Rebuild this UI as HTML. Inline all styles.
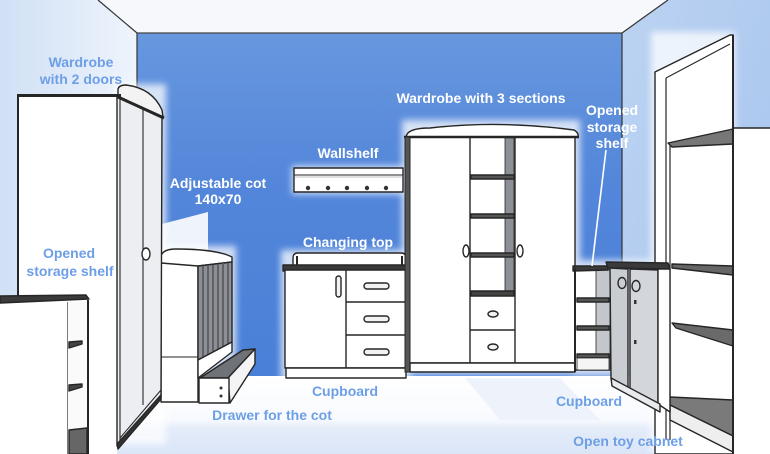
<!DOCTYPE html>
<html><head><meta charset="utf-8"><style>
html,body{margin:0;padding:0;width:770px;height:454px;overflow:hidden;background:#fff}
svg{display:block}
text{font-family:"Liberation Sans",Arial,sans-serif;font-weight:bold;font-size:14px;text-anchor:middle}
.w{fill:#fff}
.b{fill:#6d9fe7}
</style></head><body>
<svg width="770" height="454" viewBox="0 0 770 454" xmlns="http://www.w3.org/2000/svg">
<defs>
<linearGradient id="lw" x1="0" y1="0" x2="1" y2="0"><stop offset="0" stop-color="#d0e0f5"/><stop offset="1" stop-color="#eef4fc"/></linearGradient>
<linearGradient id="rw" x1="0" y1="0" x2="1" y2="1"><stop offset="0" stop-color="#bcd3f2"/><stop offset="1" stop-color="#a5c3ed"/></linearGradient>
<linearGradient id="bw" x1="0" y1="0" x2="0" y2="1"><stop offset="0" stop-color="#6797de"/><stop offset="0.45" stop-color="#5386da"/><stop offset="1" stop-color="#4a80d7"/></linearGradient>
<linearGradient id="fl" x1="0" y1="0" x2="0" y2="1"><stop offset="0" stop-color="#ffffff"/><stop offset="0.55" stop-color="#f8fafe"/><stop offset="0.68" stop-color="#e4ecf9"/><stop offset="1" stop-color="#dae5f7"/></linearGradient>
<filter id="gl" x="-30%" y="-30%" width="160%" height="160%"><feGaussianBlur stdDeviation="3.5"/></filter>
</defs>

<!-- background -->
<rect width="770" height="454" fill="#f6f8fb"/>
<polygon points="0,0 100,0 137,33 137,454 0,454" fill="url(#lw)"/>
<polygon points="622,33 668,0 770,0 770,454 622,454" fill="url(#rw)"/>
<polygon points="100,0 668,0 622,33 137,33" fill="#f6f8fb"/>
<rect x="137" y="33" width="485" height="346" fill="url(#bw)"/>
<rect x="0" y="376" width="770" height="78" fill="url(#fl)"/>
<polygon points="465,378 560,378 600,420 500,420" fill="#eaf0fa" opacity="0.8"/>
<line x1="98" y1="0" x2="137" y2="33" stroke="#333" stroke-width="1.2"/>
<line x1="137" y1="33" x2="622" y2="33" stroke="#444" stroke-width="1.2"/>
<line x1="622" y1="33" x2="668" y2="0" stroke="#333" stroke-width="1.2"/>
<line x1="137" y1="33" x2="137" y2="90" stroke="#333" stroke-width="1.2"/>
<line x1="622" y1="33" x2="622" y2="262" stroke="#333" stroke-width="1.2"/>

<!-- glow -->
<g filter="url(#gl)" fill="#fff" opacity="0.75">
<rect x="292" y="166" width="113" height="28"/>
<rect x="281" y="250" width="130" height="130"/>
<rect x="402" y="120" width="178" height="254"/>
<rect x="158" y="246" width="78" height="158"/>
<rect x="114" y="84" width="52" height="360"/>
<rect x="572" y="260" width="98" height="116"/>
<rect x="651" y="32" width="84" height="420"/>
</g>
<polygon points="162,224 208,212 208,252 162,252" fill="#fff" opacity="0.9"/>

<g stroke="#262626" stroke-width="1.4" stroke-linejoin="round">
<!-- wallshelf -->
<rect x="294" y="168" width="109" height="24" fill="#fff"/>
<line x1="294" y1="175" x2="403" y2="175" stroke-width="1"/>
<line x1="294" y1="177" x2="403" y2="177" stroke-width="0.6" stroke="#888"/>
<g fill="#333" stroke="none">
<circle cx="308" cy="188" r="2.2"/><circle cx="328" cy="188" r="2.2"/><circle cx="347" cy="188" r="2.2"/><circle cx="367" cy="188" r="2.2"/><circle cx="386" cy="188" r="2.2"/>
</g>

<!-- changing unit -->
<path d="M293,266 L293,258 Q293,253 298,253 L401,253 Q406,253 406,258 L406,266 Z" fill="#fff"/>
<line x1="297" y1="256" x2="297" y2="266" stroke-width="2"/>
<line x1="402" y1="256" x2="402" y2="266" stroke-width="2"/>
<polygon points="283,265 409,265 410,270 283,271" fill="#3a3a3a"/>
<rect x="285" y="270" width="122" height="98" fill="#fff"/>
<line x1="346" y1="270" x2="346" y2="368"/>
<line x1="346" y1="302" x2="407" y2="302"/>
<line x1="346" y1="335" x2="407" y2="335"/>
<rect x="364" y="283" width="25" height="6" rx="3" fill="#f2f2f2"/>
<rect x="364" y="316" width="25" height="6" rx="3" fill="#f2f2f2"/>
<rect x="364" y="349" width="25" height="6" rx="3" fill="#f2f2f2"/>
<rect x="336" y="276" width="5" height="21" rx="2.5" fill="#f2f2f2"/>
<rect x="286" y="368" width="120" height="10" fill="#fff"/>

<!-- wardrobe 3 sections -->
<path d="M406,137 Q407,128 430,128 Q500,120 574,130 Q579,133 578,137 Z" fill="#fff"/>
<rect x="407" y="137" width="168" height="226" fill="#fff"/>
<line x1="404" y1="137" x2="579" y2="137" stroke-width="2.5"/>
<rect x="405" y="137" width="5" height="235" fill="#555" stroke-width="1"/>
<line x1="470" y1="137" x2="470" y2="363"/>
<line x1="515" y1="137" x2="515" y2="363"/>
<rect x="505" y="138" width="9" height="155" fill="#8d9096" stroke-width="0.8"/>
<polygon points="471,175 514,175 514,179 471,179" fill="#555"/>
<polygon points="471,214 514,214 514,218 471,218" fill="#555"/>
<polygon points="471,253 514,253 514,257 471,257" fill="#555"/>
<polygon points="471,291 514,291 514,296 471,296" fill="#444"/>
<line x1="470" y1="330" x2="515" y2="330"/>
<ellipse cx="493" cy="314" rx="5" ry="3" fill="#f2f2f2"/>
<ellipse cx="493" cy="347" rx="5" ry="3" fill="#f2f2f2"/>
<ellipse cx="466" cy="251" rx="3" ry="6" fill="#fff"/>
<ellipse cx="520" cy="251" rx="3" ry="6" fill="#fff"/>
<rect x="410" y="363" width="165" height="9" fill="#fff"/>

<!-- small open shelf -->
<rect x="575" y="270" width="35" height="100" fill="#fff"/>
<rect x="596" y="270" width="14" height="100" fill="#c3c6cb" stroke-width="0.8"/>
<polygon points="573,266 608,266 608,270 573,271" fill="#3a3a3a"/>
<line x1="575" y1="268" x2="575" y2="372" stroke-width="2"/>
<polygon points="577,298 609,298 609,302 577,302" fill="#555"/>
<polygon points="577,326 609,326 609,330 577,330" fill="#555"/>
<polygon points="577,354 609,354 609,358 577,358" fill="#555"/>
<rect x="577" y="358" width="32" height="12" fill="#f5f5f5" stroke-width="0.8"/>

<!-- tall toy cabinet -->
<polygon points="655,72 730,35 733,35 733,454 655,454" fill="#fff"/>
<line x1="666" y1="78" x2="730" y2="44" stroke-width="1.1"/>
<line x1="666" y1="78" x2="666" y2="440" stroke-width="1.2"/>
<line x1="670" y1="143" x2="670" y2="440" stroke-width="1.2"/>
<polygon points="668,143 733,129 733,144 672,147" fill="#777"/>
<polygon points="672,264 733,266 733,275 672,268" fill="#666"/>
<polygon points="672,323 733,330 733,346 676,328" fill="#6a6a6a"/>
<polygon points="670,397 733,400 733,436 670,405" fill="#7a7a7a"/>
<polygon points="670,405 733,436 733,452 670,420" fill="#eeeeee"/>
<rect x="733" y="128" width="40" height="330" fill="#fff"/>
<line x1="733" y1="35" x2="733" y2="454" stroke-width="2"/>

<!-- small cupboard -->
<polygon points="606,262 668,263 670,269 608,268" fill="#3a3a3a"/>
<polygon points="610,268 628,269 628,388 611,378" fill="#c9ccd1"/>
<polygon points="630,269 658,270 658,404 630,390" fill="#d3d6da"/>
<polygon points="658,269 670,269 670,412 658,404" fill="#fff"/>
<polygon points="611,378 660,404 660,412 612,386" fill="#e8eaed"/>
<ellipse cx="622" cy="283" rx="4" ry="5.5" fill="none"/>
<ellipse cx="636" cy="286" rx="4" ry="5.5" fill="none"/>
<rect x="634" y="300" width="2.5" height="4" fill="#333" stroke="none"/>
<rect x="634" y="340" width="2.5" height="4" fill="#333" stroke="none"/>

<!-- white label line -->
<line x1="606" y1="150" x2="592" y2="266" stroke="#fff" stroke-width="1.6"/>

<!-- cot -->
<rect x="161" y="258" width="37" height="144" fill="#fff"/>
<line x1="161" y1="357" x2="198" y2="357" stroke-width="1"/>
<path d="M161,263 L161,256 Q163,249 176,249 Q216,249 232,257 L232,262 L198,266 Z" fill="#fff"/>
<polygon points="198,266 232,262 232,342 198,360" fill="#8c9096"/>
<g stroke="#55585d" stroke-width="1.6">
<line x1="203" y1="266" x2="203" y2="357"/><line x1="208" y1="265" x2="208" y2="355"/><line x1="213" y1="265" x2="213" y2="352"/><line x1="218" y1="264" x2="218" y2="350"/><line x1="223" y1="263" x2="223" y2="347"/><line x1="228" y1="263" x2="228" y2="344"/>
</g>
<polygon points="198,360 232,342 232,352 198,378" fill="#fff"/>
<polygon points="200,378 243,350 255,349 228,378" fill="#6f7379"/>
<polygon points="228,378 255,349 255,364 230,403" fill="#f4f4f4"/>
<rect x="199" y="378" width="30" height="25" fill="#fff"/>
<circle cx="221" cy="388" r="1.5" fill="#333" stroke="none"/>
<circle cx="221" cy="396" r="1.5" fill="#333" stroke="none"/>

<!-- left wardrobe -->
<rect x="18" y="97" width="99" height="357" fill="#fff" stroke="none"/>
<line x1="18" y1="97" x2="18" y2="300" stroke-width="2"/>
<polygon points="117,97 162,118 161,395 117,446" fill="#eceef1"/>
<line x1="120" y1="99" x2="120" y2="440" stroke-width="1.1"/>
<line x1="143" y1="110" x2="143" y2="405" stroke-width="1.1"/>
<line x1="120" y1="438" x2="161" y2="390" stroke-width="1"/>
<polygon points="117,444 161,395 161,399 118,449" fill="#333"/>
<path d="M118,97 L118,89 Q119,85 126,85 Q152,88 162,110 L163,117 Z" fill="#f3f3f3"/>
<line x1="17" y1="95.5" x2="121" y2="95.5" stroke-width="3"/>
<line x1="118" y1="97" x2="164" y2="118" stroke-width="3"/>
<ellipse cx="146" cy="254" rx="4" ry="6" fill="#fff"/>

<!-- left open shelf -->
<rect x="0" y="302" width="68" height="152" fill="#fff" stroke="none"/>
<line x1="68" y1="302" x2="68" y2="454" stroke-width="1.2"/>
<rect x="68" y="302" width="20" height="152" fill="#fafafa" stroke="none"/>
<line x1="88" y1="300" x2="88" y2="454" stroke-width="2"/>
<polygon points="0,296 86,295 89,299 0,303" fill="#3a3a3a"/>
<polygon points="69,342 82,341 82,344 69,348" fill="#444"/>
<polygon points="69,385 82,384 82,387 69,391" fill="#444"/>
<polygon points="69,430 87,428 87,454 69,454" fill="#666"/>
</g>

<!-- labels -->
<text class="b" x="81" y="67">Wardrobe</text>
<text class="b" x="81" y="84">with 2 doors</text>
<text class="w" x="218" y="188">Adjustable cot</text>
<text class="w" x="218" y="204">140x70</text>
<text class="w" x="348" y="158">Wallshelf</text>
<text class="w" x="348" y="247">Changing top</text>
<text class="w" x="481" y="103">Wardrobe with 3 sections</text>
<text class="w" x="612" y="115">Opened</text>
<text class="w" x="612" y="132">storage</text>
<text class="w" x="612" y="148">shelf</text>
<text class="b" x="69" y="258">Opened</text>
<text class="b" x="70" y="276">storage shelf</text>
<text class="b" x="345" y="396">Cupboard</text>
<text class="b" x="272" y="420">Drawer for the cot</text>
<text class="b" x="589" y="406">Cupboard</text>
<text class="b" x="628" y="446">Open toy cabnet</text>
</svg>
</body></html>
